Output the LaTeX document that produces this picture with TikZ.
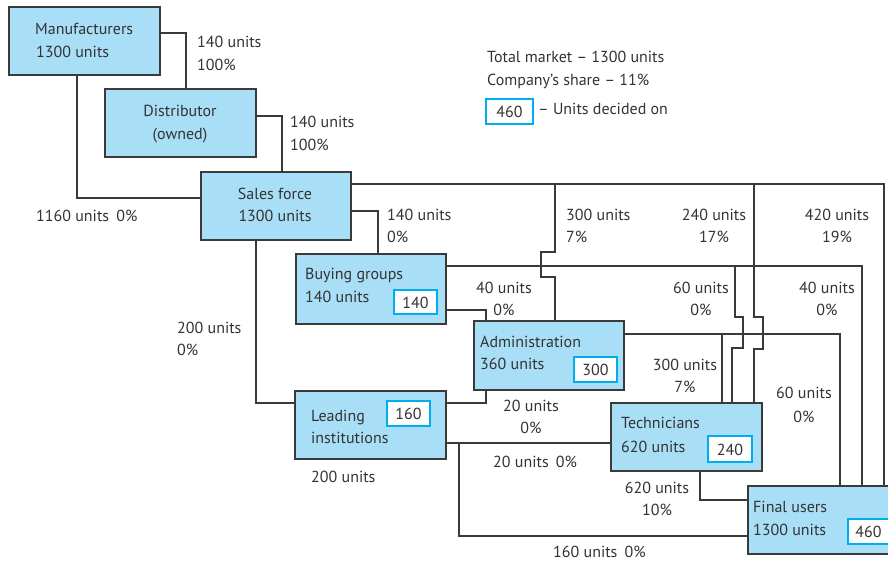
\documentclass[tikz,border=0pt]{standalone}
\usepackage{fontspec}
\setmainfont{PT Sans}
\usetikzlibrary{calc}
\definecolor{boxfill}{HTML}{A9DEF7}
\definecolor{numframe}{HTML}{00AEEF}
\definecolor{ink}{HTML}{333333}
\definecolor{wire}{HTML}{3A3A3A}
\begin{document}
\begin{tikzpicture}[x=1pt,y=-1pt,
  font=\fontsize{16}{20}\selectfont,
  stage/.style={draw=wire,line width=1.6pt,fill=boxfill,rectangle,inner sep=0pt},
  numbox/.style={draw=numframe,line width=2pt,fill=white,rectangle,inner sep=0pt,text=ink},
  lt/.style={text=ink,inner sep=0pt,anchor=base west},
  ct/.style={text=ink,inner sep=0pt,anchor=base},
  flow/.style={draw=wire,line width=1.2pt}]
\useasboundingbox (0,0) rectangle (888,564);
\clip (0,0) rectangle (888,564);

% stage boxes, given by their corners
\newcommand\stagebox[5]{\node[stage,anchor=north west,minimum width=#4-#2,minimum height=#5-#3] (#1) at (#2,#3) {};}
\stagebox{man}{8}{6}{159}{74}
\stagebox{dist}{104}{88}{255}{156}
\stagebox{sales}{200}{171}{350}{239}
\stagebox{buy}{295}{253}{445}{323}
\stagebox{adm}{473}{320}{623}{389}
\stagebox{lead}{294}{390}{445}{458}
\stagebox{tech}{610}{402}{761}{470}
\stagebox{fin}{747}{485}{905}{553}

% connectors
\draw[flow] (man.east |- 0,33) -| (186,0 |- dist.north);
\draw[flow] (man.south -| 77,0) |- (sales.west |- 0,198);
\draw[flow] (dist.east |- 0,116) -| (282,0 |- sales.north);
\draw[flow] (sales.east |- 0,184) -| (884,0 |- fin.north);
\draw[flow] (sales.east |- 0,211) -| (378,0 |- buy.north);
\draw[flow] (sales.south -| 256,0) |- (lead.west |- 0,403);
\coordinate (jadm) at (555,184);
\draw[flow] (jadm) -- (555,252) -- (541,252) -- (541,277) -- (555,277) -- (555,0 |- adm.north);
\coordinate (jtech) at (754,184);
\draw[flow] (jtech) -- (754,317) -- (763,317) -- (763,349) -- (754,349) -- (754,0 |- tech.north);
\draw[flow] (buy.east |- 0,266) -| (862,0 |- fin.north);
\coordinate (jbt) at (735,266);
\draw[flow] (jbt) -- (735,317) -- (743,317) -- (743,348) -- (732,348) -- (732,0 |- tech.north);
\draw[flow] (buy.east |- 0,310) -| (486,0 |- adm.north);
\draw[flow] (adm.east |- 0,334) -| (840,0 |- fin.north);
\coordinate (jat) at (722,334);
\draw[flow] (jat) -- (722,0 |- tech.north);
\draw[flow] (adm.south -| 486,0) |- (lead.east |- 0,403);
\draw[flow] (lead.east |- 0,443) -- (tech.west |- 0,443);
\coordinate (jlf) at (459,443);
\draw[flow] (jlf) |- (fin.west |- 0,536);
\draw[flow] (tech.south -| 700,0) |- (fin.west |- 0,500);

% text inside the stage boxes
\node[lt] (man1) at (35,35) {Manufacturers};
\node[lt] (man2) at (36,58) {1300 units};
\node[ct] (dist1) at (180,117) {Distributor};
\node[ct] (dist2) at (180,140) {(owned)};
\node[ct] (sales1) at (275,199) {Sales force};
\node[ct] (sales2) at (275,222) {1300 units};
\node[lt] (buy1) at (305,279) {Buying groups};
\node[lt] (buy2) at (305,302) {140 units};
\node[lt] (adm1) at (480,347) {Administration};
\node[lt] (adm2) at (480,369) {360 units};
\node[lt] (lead1) at (311,421) {Leading};
\node[lt] (lead2) at (311,443) {institutions};
\node[lt] (tech1) at (621,428) {Technicians};
\node[lt] (tech2) at (621,452) {620 units};
\node[lt] (fin1) at (753,512) {Final users};
\node[lt] (fin2) at (753,535) {1300 units};

% units decided on
\newcommand\numat[5]{\node[numbox,anchor=north west,minimum width=#4-#2,minimum height=#5-#3] (#1) at (#2,#3) {};}
\numat{nbuy}{393}{289}{436}{313}
\numat{nadm}{573}{356}{616}{381}
\numat{nlead}{386}{400}{429}{425}
\numat{ntech}{707}{435}{751}{461}
\numat{nfin}{847}{518}{890}{543}
\numat{nkey}{485}{98}{532}{123}
\node[ct] (vbuy) at ($(nbuy.center)+(0,6)$) {140};
\node[ct] (vadm) at ($(nadm.center)+(0,6)$) {300};
\node[ct] (vlead) at ($(nlead.center)+(0,6)$) {160};
\node[ct] (vtech) at ($(ntech.center)+(0,6)$) {240};
\node[ct] (vfin) at ($(nfin.center)+(-1,6)$) {460};
\node[ct] (vkey) at ($(nkey.center)+(0,6)$) {460};

% key
\node[lt] (key1) at (487,63) {Total market – 1300 units};
\node[lt] (key2) at (487,86) {Company’s share – 11\%};
\node[lt] (key3) at (538,115) {– Units decided on};

% flow labels
\node[lt] (f1a) at (197,48) {140 units};
\node[lt] (f1b) at (197,71) {100\%};
\node[lt] (f2a) at (290,128) {140 units};
\node[lt] (f2b) at (290,151) {100\%};
\node[lt] (f3) at (36,222) {1160 units\hspace{0.45em}0\%};
\node[lt] (f4a) at (387,220) {140 units};
\node[lt] (f4b) at (387,242) {0\%};
\node[lt] (f5a) at (566,220) {300 units};
\node[lt] (f5b) at (566,242) {7\%};
\node[ct] (f6a) at (714,220) {240 units};
\node[ct] (f6b) at (714,242) {17\%};
\node[ct] (f7a) at (837,220) {420 units};
\node[ct] (f7b) at (837,242) {19\%};
\node[ct] (f8a) at (504,293) {40 units};
\node[ct] (f8b) at (504,315) {0\%};
\node[ct] (f9a) at (701,293) {60 units};
\node[ct] (f9b) at (701,315) {0\%};
\node[ct] (f10a) at (827,293) {40 units};
\node[ct] (f10b) at (827,315) {0\%};
\node[lt] (f11a) at (177,333) {200 units};
\node[lt] (f11b) at (177,355) {0\%};
\node[ct] (f12a) at (685,370) {300 units};
\node[ct] (f12b) at (685,392) {7\%};
\node[ct] (f13a) at (804,398) {60 units};
\node[ct] (f13b) at (804,422) {0\%};
\node[ct] (f14a) at (531,411) {20 units};
\node[ct] (f14b) at (531,433) {0\%};
\node[lt] (f15) at (493,467) {20 units\hspace{0.45em}0\%};
\node[lt] (f16) at (311,482) {200 units};
\node[ct] (f17a) at (657,493) {620 units};
\node[ct] (f17b) at (657,515) {10\%};
\node[lt] (f18) at (553,557) {160 units\hspace{0.45em}0\%};
\end{tikzpicture}
\end{document}
